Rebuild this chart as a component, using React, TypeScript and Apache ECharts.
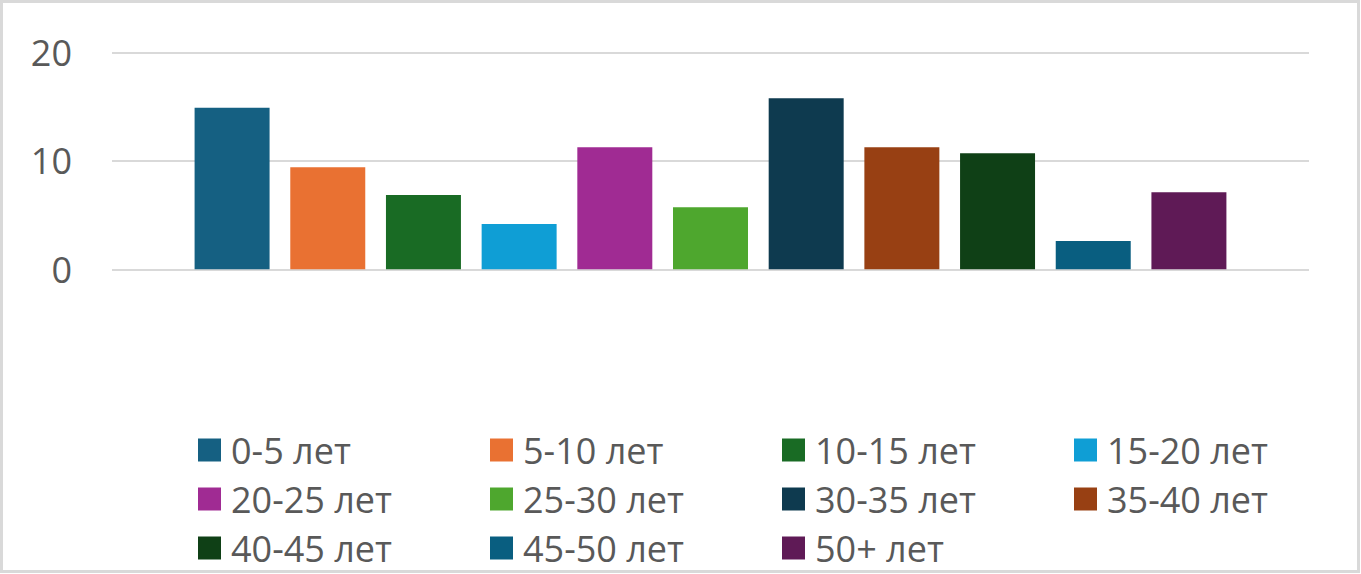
import React, { useEffect, useRef } from "react";
import * as echarts from "echarts";

const seriesNames = [
  "0-5 лет", "5-10 лет", "10-15 лет", "15-20 лет", "20-25 лет", "25-30 лет",
  "30-35 лет", "35-40 лет", "40-45 лет", "45-50 лет", "50+ лет",
];
const seriesValues = [14.9, 9.4, 6.85, 4.17, 11.24, 5.71, 15.76, 11.24, 10.7, 2.6, 7.1];
const seriesColors = [
  "#156082", "#E97132", "#196B24", "#0F9ED5", "#A02B93", "#4EA72E",
  "#0E3A4F", "#984013", "#0F4016", "#095E80", "#5F1A56",
];
const categories = [""];
const legendColumns = [
  ["0-5 лет", "20-25 лет", "40-45 лет"],
  ["5-10 лет", "25-30 лет", "45-50 лет"],
  ["10-15 лет", "30-35 лет", "50+ лет"],
  ["15-20 лет", "35-40 лет"],
];
const legendLefts = [198, 490, 782, 1074];

const FONT = "'Open Sans', 'Noto Sans', sans-serif";
const TEXT = "#595959";

export default function App() {
  const ref = useRef<HTMLDivElement>(null);
  useEffect(() => {
    document.body.style.margin = "0";
    document.body.style.overflow = "hidden";
    if (!ref.current) return;
    const chart = echarts.init(ref.current, null, { renderer: "svg" });
    chart.setOption({
      animation: false,
      backgroundColor: "#ffffff",
      grid: { left: 112, right: 52, top: 52.3, bottom: 304.7, containLabel: false },
      xAxis: {
        type: "category",
        data: categories,
        axisLine: { show: false },
        axisTick: { show: false },
        axisLabel: { show: false },
        splitLine: { show: false },
      },
      yAxis: {
        type: "value",
        min: 0,
        max: 20,
        interval: 10,
        axisLine: { show: false },
        axisTick: { show: false },
        axisLabel: { color: TEXT, fontSize: 36, fontFamily: FONT, margin: 40 },
        splitLine: { lineStyle: { color: "#D9D9D9", width: 2 } },
      },
      legend: legendColumns.map((col, i) => ({
        data: col,
        orient: "vertical",
        left: legendLefts[i],
        top: 432,
        itemWidth: 23,
        itemHeight: 23,
        itemGap: 13,
        icon: "rect",
        padding: 0,
        selectedMode: false,
        textStyle: {
          color: TEXT,
          fontSize: 36,
          lineHeight: 36,
          fontFamily: FONT,
          padding: [0, 0, 0, 5],
        },
      })),
      graphic: [
        {
          type: "rect",
          shape: { x: 1.5, y: 1.5, width: 1357, height: 570 },
          style: { fill: "none", stroke: "#D9D9D9", lineWidth: 3 },
          silent: true,
          z: 100,
        },
      ],
      series: seriesNames.map((name, i) => ({
        type: "bar",
        name,
        data: [seriesValues[i]],
        itemStyle: { color: seriesColors[i] },
        barGap: "27.6%",
        barCategoryGap: "13.8%",
      })),
    });
    return () => chart.dispose();
  }, []);
  return <div ref={ref} style={{ width: 1361, height: 574 }} />;
}
